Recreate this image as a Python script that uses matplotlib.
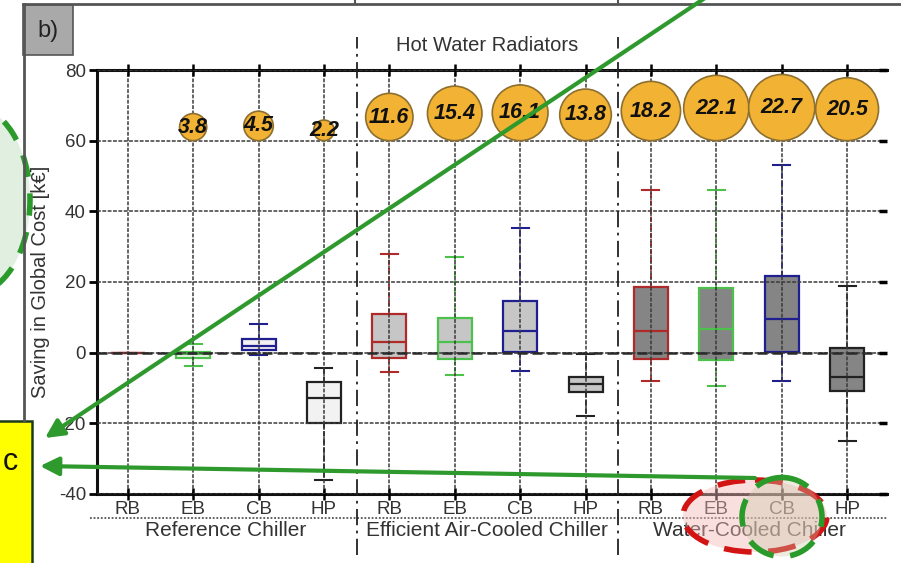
import numpy as np
import matplotlib
matplotlib.use('Agg')
import matplotlib.pyplot as plt
from matplotlib.patches import Ellipse, Rectangle

plt.rcParams['font.family'] = ['Liberation Sans', 'DejaVu Sans']
plt.rcParams['axes.unicode_minus'] = False

# ---------------- data ----------------
box_labels = ['RB', 'EB', 'CB', 'HP'] * 3
groups = ['Reference Chiller', 'Efficient Air-Cooled Chiller', 'Water-Cooled Chiller']

q1 = [0, -1.4, 0.8, -19.8, -1.4, -1.8, 0.2, -11.0, -1.7, -2.0, 0.3, -10.8]
q3 = [0, 0.3, 4.0, -8.2, 11.0, 9.9, 14.7, -6.8, 18.7, 18.2, 21.8, 1.2]
med = [0, -0.5, 2.0, -12.8, 3.1, 3.1, 6.0, -8.8, 6.0, 6.7, 9.6, -6.8]
whislo = [0, -3.7, -0.8, -36.0, -5.4, -6.2, -5.1, -17.8, -8.0, -9.3, -8.0, -25.0]
whishi = [0, 2.5, 8.0, -4.3, 28.0, 27.2, 35.4, -0.5, 46.0, 46.0, 53.0, 19.0]

bubble_pos = [2, 3, 4, 5, 6, 7, 8, 9, 10, 11, 12]
bubble_val = [3.8, 4.5, 2.2, 11.6, 15.4, 16.1, 13.8, 18.2, 22.1, 22.7, 20.5]

# ---------------- styles ----------------
line_cols = ['#b02a2a', '#4cc24c', '#1f1f8f', '#222222'] * 3
face_cols = ['#f2f2f2'] * 4 + ['#c6c6c6'] * 4 + ['#858585'] * 4

fig = plt.figure(figsize=(9.01, 5.63), dpi=100)
ax = fig.add_axes([97 / 901, 1 - 494 / 563, 790 / 901, 424 / 563])

pos = np.arange(1, 13)
stats = [dict(med=med[i], q1=q1[i], q3=q3[i], whislo=whislo[i], whishi=whishi[i], fliers=[])
         for i in range(12)]
bp = ax.bxp(stats, positions=pos, widths=0.52, patch_artist=True, showfliers=False,
            capwidths=0.26, manage_ticks=False,
            whiskerprops=dict(linestyle=(0, (3, 1.5)), linewidth=1.3),
            capprops=dict(linewidth=1.5), medianprops=dict(linewidth=1.6),
            boxprops=dict(linewidth=1.6))
for i in range(12):
    bp['boxes'][i].set_facecolor(face_cols[i])
    bp['boxes'][i].set_edgecolor(line_cols[i])
    bp['medians'][i].set_color(line_cols[i])
    for k in (2 * i, 2 * i + 1):
        bp['whiskers'][k].set_color(line_cols[i])
        bp['caps'][k].set_color(line_cols[i])

ax.set_xlim(0.53, 12.61)
ax.set_ylim(-40, 80)
ax.set_yticks(np.arange(-40, 81, 20))
ax.set_yticklabels([str(v) for v in range(-40, 81, 20)])
ax.set_xticks(pos)
ax.set_xticklabels(box_labels)

ax.set_axisbelow(False)
ax.grid(True, color='#3a3a3a', linestyle=(0, (2.5, 1)), linewidth=1.1)
ax.axhline(0, color='#2a2a2a', linestyle=(0, (4, 2)), linewidth=1.8, zorder=2.6)

for s in ('left', 'top', 'bottom'):
    ax.spines[s].set_linewidth(2.2)
    ax.spines[s].set_color('#111111')
ax.spines['right'].set_visible(False)
ax.tick_params(axis='y', direction='out', length=6, width=2, labelsize=13.5,
               labelcolor='#333333', left=True, right=False, pad=2)
ax.tick_params(axis='x', direction='inout', length=8, width=1.8, labelsize=13.5,
               labelcolor='#333333', top=True, bottom=True, pad=1)

# short inward ticks on the right edge
axr = ax.twinx()
axr.set_ylim(ax.get_ylim())
axr.set_yticks(ax.get_yticks())
axr.tick_params(axis='y', direction='in', length=6, width=2.5, labelright=False)
axr.spines[:].set_visible(False)

# bubbles, bottom-aligned on the 60 line
fig.canvas.draw()
ppu = ax.transData.transform((0, 1))[1] - ax.transData.transform((0, 0))[1]
sizes = [100 * v for v in bubble_val]
centers = [60 + (np.sqrt(s) / 2 * 100 / 72) / ppu for s in sizes]
ax.scatter(bubble_pos, centers, s=sizes, color='#f2b233', edgecolors='#8d6f30',
           linewidths=1.2, zorder=4, clip_on=False)
for x, y, v in zip(bubble_pos, centers, bubble_val):
    ax.text(x, y, '%.1f' % v, ha='center', va='center', fontsize=15.5,
            fontweight='bold', fontstyle='italic', color='#111111', zorder=5)

# group separators, labels and titles
trans = ax.get_xaxis_transform()
for xs in (4.5, 8.5):
    ax.plot([xs, xs], [-0.145, 1.078], transform=trans, clip_on=False,
            color='#222222', linestyle=(0, (9, 3, 1.5, 3)), linewidth=1.3, zorder=3)
ax.plot([-0.009, 1.0], [-0.0566, -0.0566], transform=ax.transAxes, clip_on=False,
        color='#555555', linestyle=(0, (1, 1)), linewidth=1.3)
for gx, g in zip((2.5, 6.5, 10.5), groups):
    ax.text(gx, -0.086, g, transform=trans, ha='center', va='center',
            fontsize=15, color='#333333')
ax.text(6.5, 1.057, 'Hot Water Radiators', transform=trans, ha='center', va='center',
        fontsize=14.5, color='#333333')
fig.text(41 / 901, 1 - 282 / 563, 'Saving in Global Cost [k€]', rotation=90,
         ha='center', va='center', fontsize=14.5, color='#333333')

# ---------------- overlay annotations (pixel coordinates) ----------------
ov = fig.add_axes([0, 0, 1, 1], zorder=10)
ov.set_xlim(0, 901)
ov.set_ylim(563, 0)
ov.axis('off')
ov.patch.set_alpha(0)

ov.plot([23, 901], [4, 4], color='#555555', lw=2)
ov.plot([24, 24], [4, 421], color='#555555', lw=2)
for xs in (355, 618):
    ov.plot([xs, xs], [0, 4], color='#555555', lw=1.5)
ov.add_patch(Rectangle((23, 5), 50, 50, facecolor='#a9a9a9', edgecolor='#555555', lw=1.2))
ov.text(48, 31, 'b)', ha='center', va='center', fontsize=17, color='#222222')

ov.add_patch(Ellipse((-30, 200), 120, 190, facecolor='#e1efe1', edgecolor='#2a9a2a',
                     lw=4, linestyle=(0, (4, 3))))
ov.add_patch(Rectangle((-2, 421), 34, 150, facecolor='#ffff00', edgecolor='#1a3a1a', lw=1.8))
ov.text(10, 462, 'c', ha='center', va='center', fontsize=22, color='#111111')

ov.add_patch(Ellipse((755, 516), 144, 72, facecolor='#f4b8b8', alpha=0.45, edgecolor='none'))
ov.add_patch(Ellipse((755, 516), 144, 72, facecolor='none', edgecolor='#d21414',
                     lw=4, linestyle=(0, (5, 3))))
ov.add_patch(Ellipse((782, 517), 80, 79, facecolor='#c8c8a8', alpha=0.35, edgecolor='none'))
ov.add_patch(Ellipse((782, 517), 80, 79, facecolor='none', edgecolor='#2a9a2a',
                     lw=4, linestyle=(0, (5, 3))))

arrow = dict(arrowstyle='-|>', lw=3, color='#2e9a2e', mutation_scale=28, shrinkA=0, shrinkB=0)
ov.annotate('', xy=(45, 438), xytext=(705, -2), arrowprops=arrow)
ov.annotate('', xy=(40, 466), xytext=(755, 478), arrowprops=arrow)

fig.savefig('out.png', dpi=100)
